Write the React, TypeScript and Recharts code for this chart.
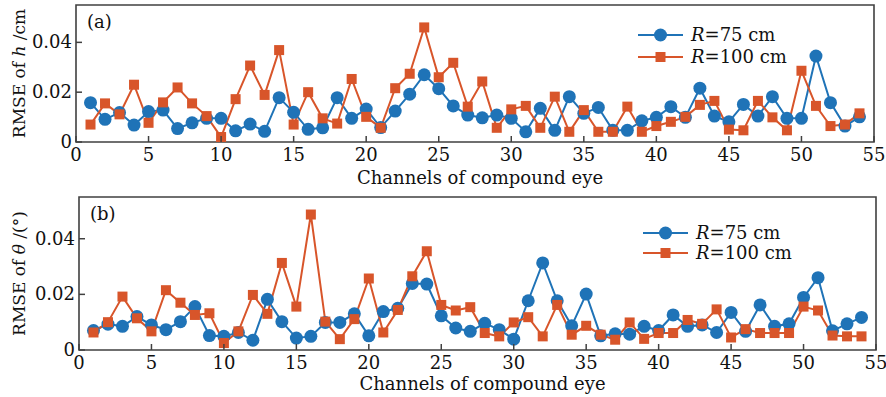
import { Line, LineChart, ReferenceArea, XAxis, YAxis } from "recharts"

const channels = [
  1, 2, 3, 4, 5, 6, 7, 8, 9, 10, 11, 12, 13, 14, 15, 16, 17, 18, 19, 20, 21, 22, 23, 24, 25, 26, 27,
  28, 29, 30, 31, 32, 33, 34, 35, 36, 37, 38, 39, 40, 41, 42, 43, 44, 45, 46, 47, 48, 49, 50, 51, 52,
  53, 54,
]

// panel (a): RMSE of h
const hR75 = [
  0.0158, 0.0091, 0.0118, 0.0068, 0.0122, 0.0128, 0.0054, 0.0077, 0.0095, 0.0095, 0.0045, 0.0072,
  0.0043, 0.0178, 0.0119, 0.0051, 0.0057, 0.0178, 0.0095, 0.0132, 0.0058, 0.0124, 0.0192, 0.027,
  0.0214, 0.0145, 0.0108, 0.0097, 0.0108, 0.0095, 0.0041, 0.0135, 0.0047, 0.0182, 0.0115, 0.0139,
  0.0047, 0.0047, 0.0085, 0.0099, 0.0142, 0.0099, 0.0216, 0.0104, 0.0081, 0.0151, 0.0104, 0.0182,
  0.0095, 0.0095, 0.0345, 0.0158, 0.0064, 0.0101,
]
const hR100 = [
  0.007, 0.0155, 0.0111, 0.023, 0.0077, 0.0159, 0.0219, 0.0155, 0.0104, 0.002, 0.0172, 0.0307,
  0.0189, 0.0369, 0.007, 0.02, 0.0095, 0.0074, 0.0253, 0.0101, 0.0057, 0.0216, 0.0274, 0.046, 0.026,
  0.0318, 0.0142, 0.0243, 0.0057, 0.0131, 0.0145, 0.0057, 0.0182, 0.0041, 0.0128, 0.0041, 0.0041,
  0.0142, 0.0041, 0.0064, 0.0081, 0.0101, 0.0149, 0.0165, 0.005, 0.0047, 0.0165, 0.0099, 0.0047,
  0.0286, 0.0145, 0.0064, 0.007, 0.0115,
]

// panel (b): RMSE of theta
const tR75 = [
  0.007, 0.0093, 0.0085, 0.012, 0.009, 0.0073, 0.0102, 0.0156, 0.0052, 0.0049, 0.0063, 0.0035,
  0.0182, 0.0102, 0.0043, 0.0049, 0.0099, 0.0099, 0.013, 0.0051, 0.0138, 0.015, 0.0239, 0.0237,
  0.0123, 0.0079, 0.0067, 0.0096, 0.0073, 0.0039, 0.0177, 0.0313, 0.0177, 0.0087, 0.0201, 0.0051,
  0.0058, 0.0057, 0.0085, 0.007, 0.0126, 0.0085, 0.009, 0.0063, 0.0135, 0.0067, 0.0162, 0.0085,
  0.0094, 0.0189, 0.026, 0.0069, 0.0094, 0.0117,
]
const tR100 = [
  0.0063, 0.01, 0.0192, 0.0114, 0.0067, 0.0215, 0.017, 0.0126, 0.0132, 0.0025, 0.0067, 0.0198,
  0.013, 0.0313, 0.0156, 0.0487, 0.0102, 0.0039, 0.0111, 0.0257, 0.0063, 0.0144, 0.0265, 0.0355,
  0.0162, 0.0142, 0.0154, 0.0061, 0.0049, 0.0099, 0.0118, 0.0049, 0.0162, 0.0055, 0.0087, 0.0055,
  0.0037, 0.0099, 0.004, 0.0061, 0.0061, 0.0108, 0.0094, 0.0146, 0.0045, 0.0075, 0.0061, 0.0061,
  0.0061, 0.0156, 0.0142, 0.0052, 0.0049, 0.0049,
]

const xTicks = [0, 5, 10, 15, 20, 25, 30, 35, 40, 45, 50, 55]
const yTicks = [0, 0.02, 0.04]
const seriesNames = ["75 cm", "100 cm"]

const FONT = "'DejaVu Serif', serif"
const BLUE = "#1f73b7"
const ORANGE = "#d8552a"
const FRAME = "#404040"

const XTick = (p: any) => (
  <g>
    <line x1={p.x} y1={p.y} x2={p.x} y2={p.y - 6} stroke={FRAME} strokeWidth={1.5} />
    <text x={p.x} y={p.y + 19} textAnchor="middle" fontFamily={FONT} fontSize={18} fill="#111">
      {p.payload.value}
    </text>
  </g>
)

const YTick = (p: any) => (
  <g>
    <line x1={p.x} y1={p.y} x2={p.x + 6} y2={p.y} stroke={FRAME} strokeWidth={1.5} />
    <text x={p.x - 4} y={p.y + 6} textAnchor="end" fontFamily={FONT} fontSize={18} fill="#111">
      {p.payload.value}
    </text>
  </g>
)

const Square = (p: any) => {
  if (p.cx == null || p.cy == null) return <g key={p.key} />
  return <rect key={p.key} x={p.cx - 5} y={p.cy - 5} width={10} height={10} fill={ORANGE} />
}

function Legend({ left, top, gap }: { left: number; top: number; gap: number }) {
  return (
    <svg
      style={{ position: "absolute", left, top }}
      width={180}
      height={gap + 24}
      fontFamily={FONT}
      fontSize={18}
    >
      <line x1={2} y1={12} x2={47} y2={12} stroke={BLUE} strokeWidth={2} />
      <circle cx={24.5} cy={12} r={6.5} fill={BLUE} />
      <text x={55} y={18} fill="#111">
        <tspan fontStyle="italic">R</tspan>={seriesNames[0]}
      </text>
      <line x1={2} y1={12 + gap} x2={47} y2={12 + gap} stroke={ORANGE} strokeWidth={2} />
      <rect x={19.5} y={7 + gap} width={10} height={10} fill={ORANGE} />
      <text x={55} y={18 + gap} fill="#111">
        <tspan fontStyle="italic">R</tspan>={seriesNames[1]}
      </text>
    </svg>
  )
}

function Panel({
  top,
  height,
  margin,
  yAxisWidth,
  xAxisHeight,
  blue,
  orange,
  tag,
  symbol,
  unit,
  xLabelGap,
}: any) {
  const data = channels.map((c, i) => ({ ch: c, r75: blue[i], r100: orange[i] }))
  return (
    <div style={{ position: "absolute", left: 0, top }}>
      <LineChart width={886} height={height} data={data} margin={margin}>
        <XAxis
          dataKey="ch"
          type="number"
          domain={[0, 55]}
          ticks={xTicks}
          height={xAxisHeight}
          axisLine={false}
          tickLine={false}
          tickSize={0}
          tickMargin={0}
          tick={XTick}
          interval={0}
          label={{
            content: (lp: any) => {
              const vb = lp.viewBox
              return (
                <text
                  x={vb.x + vb.width / 2 + 5}
                  y={vb.y + xLabelGap}
                  textAnchor="middle"
                  fontFamily={FONT}
                  fontSize={18}
                  fill="#111"
                >
                  Channels of compound eye
                </text>
              )
            },
          }}
        />
        <YAxis
          type="number"
          domain={[0, 0.055]}
          ticks={yTicks}
          width={yAxisWidth}
          axisLine={false}
          tickLine={false}
          tickSize={0}
          tickMargin={0}
          tick={YTick}
          interval={0}
          label={{
            content: (lp: any) => {
              const vb = lp.viewBox
              const cx = 25
              const cy = vb.y + vb.height / 2
              return (
                <text
                  x={cx}
                  y={cy}
                  transform={`rotate(-90, ${cx}, ${cy})`}
                  textAnchor="middle"
                  fontFamily={FONT}
                  fontSize={17}
                  fill="#111"
                >
                  RMSE of <tspan fontStyle="italic">{symbol}</tspan> /{unit}
                </text>
              )
            },
          }}
        />
        <ReferenceArea
          x1={0}
          x2={55}
          y1={0}
          y2={0.055}
          fill="none"
          stroke={FRAME}
          strokeWidth={1.6}
          label={{
            content: (lp: any) => {
              const vb = lp.viewBox
              return (
                <text x={vb.x + 11} y={vb.y + 23} fontFamily={FONT} fontSize={18} fill="#111">
                  {tag}
                </text>
              )
            },
          }}
        />
        <Line
          dataKey="r75"
          stroke={BLUE}
          strokeWidth={2}
          dot={{ r: 6.5, fill: BLUE, stroke: "none" }}
          isAnimationActive={false}
        />
        <Line
          dataKey="r100"
          stroke={ORANGE}
          strokeWidth={2}
          dot={Square}
          isAnimationActive={false}
        />
      </LineChart>
    </div>
  )
}

export default function App() {
  return (
    <div style={{ position: "absolute", left: 0, top: 0, width: 886, height: 397, background: "#fff" }}>
      <Panel
        top={0}
        height={190}
        margin={{ top: 5, right: 12, bottom: 0, left: 0 }}
        yAxisWidth={76}
        xAxisHeight={48}
        blue={hR75}
        orange={hR100}
        tag="(a)"
        symbol="h"
        unit="cm"
        xLabelGap={42}
      />
      <Panel
        top={190}
        height={207}
        margin={{ top: 7, right: 10, bottom: 0, left: 0 }}
        yAxisWidth={79}
        xAxisHeight={47}
        blue={tR75}
        orange={tR100}
        tag="(b)"
        symbol="θ"
        unit="(°)"
        xLabelGap={40}
      />
      <Legend left={636} top={23} gap={22} />
      <Legend left={641} top={221} gap={20} />
    </div>
  )
}
